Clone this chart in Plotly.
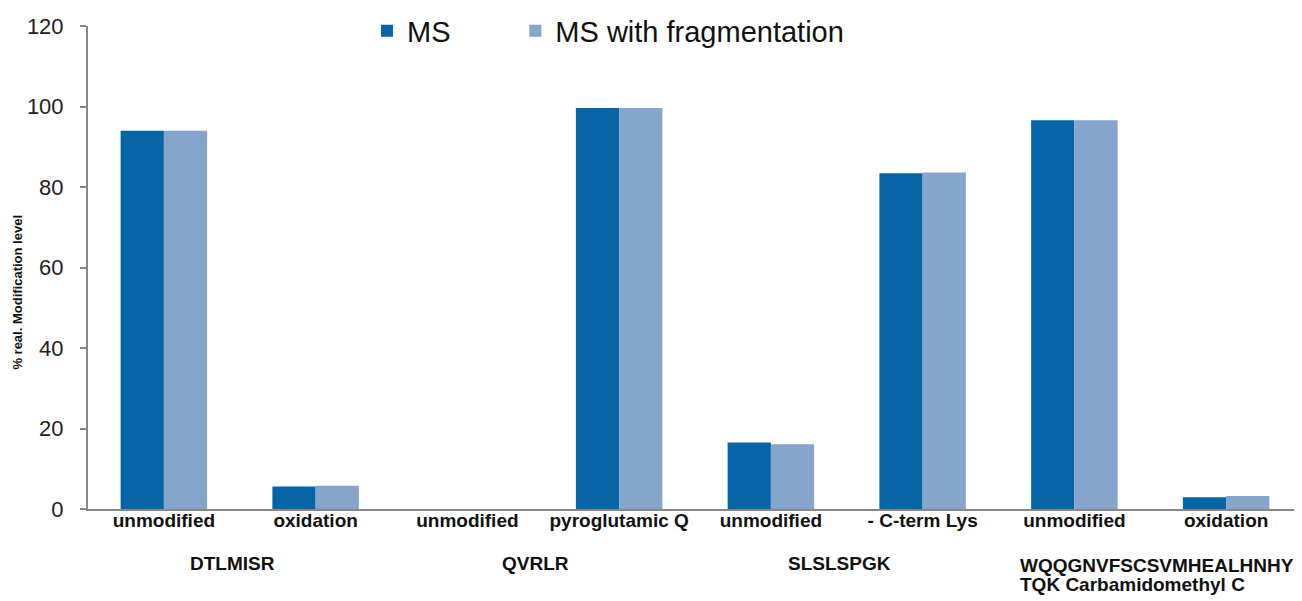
import plotly.graph_objects as go

categories = ["unmodified", "oxidation", "unmodified", "pyroglutamic Q",
              "unmodified", "- C-term Lys", "unmodified", "oxidation"]
ms_values = [94.0, 5.6, 0.0, 99.6, 16.5, 83.4, 96.6, 2.9]
ms_frag_values = [94.0, 5.8, 0.0, 99.6, 16.1, 83.6, 96.6, 3.2]
groups = ["DTLMISR", "QVRLR", "SLSLSPGK", "WQQGNVFSCSVMHEALHNHY\nTQK Carbamidomethyl C"]
y_ticks = [0, 20, 40, 60, 80, 100, 120]

x = list(range(len(categories)))
LABEL_FONT = dict(family="Arial", size=19, color="#111")

fig = go.Figure()
fig.add_trace(go.Bar(x=x, y=ms_values, name="MS", marker_color="#0565A6",
                     marker_line_width=0, legend="legend"))
fig.add_trace(go.Bar(x=x, y=ms_frag_values, name="MS with fragmentation",
                     marker_color="#86A5CD", marker_line_width=0, legend="legend2"))

for i, g in enumerate(groups):
    xc = 2 * i + 0.5
    lines = g.split("\n")
    if len(lines) > 1:
        for j, line in enumerate(lines):
            fig.add_annotation(x=xc - 0.87, xref="x", y=-0.117 - j * 0.039, yref="paper",
                               text="<b>" + line + "</b>", showarrow=False,
                               xanchor="left", yanchor="middle",
                               font=LABEL_FONT)
    else:
        fig.add_annotation(x=xc - 0.05, xref="x", y=-0.112, yref="paper",
                           text="<b>" + g + "</b>", showarrow=False,
                           xanchor="center", yanchor="middle",
                           font=LABEL_FONT)

fig.add_annotation(x=-0.0577, xref="paper", y=0.45, yref="paper",
                   text="<b>% real. Modification level</b>", textangle=-90,
                   showarrow=False, xanchor="center", yanchor="middle",
                   font=dict(family="Arial", size=13, color="#111"))

legend_common = dict(orientation="h", yanchor="middle", y=0.99,
                     xanchor="left", font=dict(family="Arial", size=29, color="#111"),
                     bgcolor="rgba(0,0,0,0)", borderwidth=0)

# page body has an 8px margin, so the figure is sized 8px smaller and margins offset
fig.update_layout(
    width=1294, height=593,
    margin=dict(l=80, r=0, t=18, b=92, autoexpand=False),
    paper_bgcolor="white", plot_bgcolor="white",
    barmode="group", bargap=0.43, bargroupgap=0,
    font=dict(family="Arial", color="#111"),
    showlegend=True,
    legend=dict(x=0.2298, **legend_common),
    legend2=dict(x=0.352, **legend_common),
    xaxis=dict(range=[-0.5, 7.5], tickvals=x,
               ticktext=["<b>" + c + "</b>" for c in categories],
               tickfont=LABEL_FONT, ticklabelstandoff=-7,
               showline=True, linecolor="#888", linewidth=2,
               ticks="", showgrid=False, zeroline=False, automargin=False),
    yaxis=dict(range=[0, 120], tickvals=y_ticks,
               tickfont=dict(family="Arial", size=22, color="#222"),
               showline=True, linecolor="#888", linewidth=2,
               ticks="outside", ticklen=6, tickcolor="#888", tickwidth=2,
               ticklabelstandoff=12,
               showgrid=False, zeroline=False, automargin=False),
)

fig.write_html("out.html")
